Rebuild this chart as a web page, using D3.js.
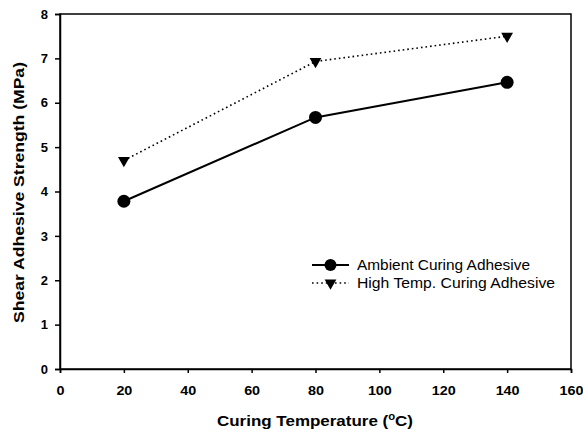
<!DOCTYPE html>
<html>
<head>
<meta charset="utf-8">
<script src="https://cdn.jsdelivr.net/npm/d3@7"></script>
<style>
  body { margin: 0; background: #fff; }
  text { font-family: "Liberation Sans", Arial, sans-serif; }
</style>
</head>
<body>
<div id="chart"></div>
<script>
const temps = [20, 80, 140];
const ambient = [3.78, 5.67, 6.46];
const highTemp = [4.7, 6.93, 7.5];
const xTicks = [0, 20, 40, 60, 80, 100, 120, 140, 160];
const yTicks = [0, 1, 2, 3, 4, 5, 6, 7, 8];
const seriesNames = ["Ambient Curing Adhesive", "High Temp. Curing Adhesive"];

const width = 583, height = 433;
const margin = { top: 14, right: 12, bottom: 64, left: 60 };
const w = width - margin.left - margin.right;
const h = height - margin.top - margin.bottom;

const svg = d3.select("#chart").append("svg")
  .attr("width", width).attr("height", height);
const g = svg.append("g")
  .attr("transform", "translate(" + margin.left + "," + margin.top + ")");

const x = d3.scaleLinear().domain([0, 160]).range([0, w]);
const y = d3.scaleLinear().domain([0, 8]).range([h, 0]);

// frame
g.append("rect").attr("width", w).attr("height", h)
  .attr("fill", "none").attr("stroke", "#000").attr("stroke-width", 1.5);

const xAxis = g.append("g").attr("transform", "translate(0," + h + ")")
  .call(d3.axisBottom(x).tickValues(xTicks).tickSize(4).tickPadding(13));
const yAxis = g.append("g")
  .call(d3.axisLeft(y).tickValues(yTicks).tickSize(5).tickPadding(7));
[xAxis, yAxis].forEach(a => {
  a.select(".domain").attr("stroke-width", 1.5);
  a.selectAll(".tick line").attr("stroke-width", 1.5);
  a.selectAll("text").attr("font-size", 13).attr("font-weight", "bold")
    .attr("fill", "#000").style("font-family", "Liberation Sans, Arial, sans-serif");
});
// a bit wider, like the scanned labels
xAxis.selectAll(".tick text")
  .attr("textLength", d => String(d).length * 8).attr("lengthAdjust", "spacingAndGlyphs");

const line = d3.line().x((d, i) => x(temps[i])).y(d => y(d));

g.append("path").datum(highTemp).attr("d", line)
  .attr("fill", "none").attr("stroke", "#000").attr("stroke-width", 1.6)
  .attr("stroke-dasharray", "1.6,3");
g.append("path").datum(ambient).attr("d", line)
  .attr("fill", "none").attr("stroke", "#000").attr("stroke-width", 2);

const tri = d3.symbol().type(d3.symbolTriangle).size(60);
g.selectAll(".tri").data(highTemp).enter().append("path")
  .attr("d", tri)
  .attr("transform", (d, i) => "translate(" + x(temps[i]) + "," + y(d) + ") rotate(180)")
  .attr("fill", "#000");
g.selectAll(".dot").data(ambient).enter().append("circle")
  .attr("cx", (d, i) => x(temps[i])).attr("cy", d => y(d)).attr("r", 6.5)
  .attr("fill", "#000");

// legend
const lg = svg.append("g").attr("transform", "translate(312,265)");
lg.append("line").attr("x1", 0).attr("x2", 37).attr("y1", 0).attr("y2", 0)
  .attr("stroke", "#000").attr("stroke-width", 2);
lg.append("circle").attr("cx", 18.5).attr("cy", 0).attr("r", 6).attr("fill", "#000");
lg.append("line").attr("x1", 0).attr("x2", 37).attr("y1", 18).attr("y2", 18)
  .attr("stroke", "#000").attr("stroke-width", 1.6).attr("stroke-dasharray", "1.6,3");
lg.append("path").attr("d", tri)
  .attr("transform", "translate(18.5,18) rotate(180)").attr("fill", "#000");
const legendLen = [173, 198];
lg.selectAll(".lt").data(seriesNames).enter().append("text")
  .attr("x", 45).attr("y", (d, i) => i * 18 + 5)
  .attr("font-size", 14.5)
  .attr("textLength", (d, i) => legendLen[i]).attr("lengthAdjust", "spacingAndGlyphs")
  .text(d => d);

// axis titles
const xt = svg.append("text")
  .attr("x", 217).attr("y", 426)
  .attr("font-size", 15).attr("font-weight", "bold")
  .attr("textLength", 196).attr("lengthAdjust", "spacingAndGlyphs");
xt.append("tspan").text("Curing Temperature (");
xt.append("tspan").attr("font-size", 10).attr("dy", -6).text("o");
xt.append("tspan").attr("dy", 6).text("C)");

svg.append("text")
  .attr("transform", "translate(24," + (margin.top + h / 2 + 1) + ") rotate(-90)")
  .attr("text-anchor", "middle").attr("font-size", 15).attr("font-weight", "bold")
  .attr("textLength", 261).attr("lengthAdjust", "spacingAndGlyphs")
  .text("Shear Adhesive Strength (MPa)");
</script>
</body>
</html>
